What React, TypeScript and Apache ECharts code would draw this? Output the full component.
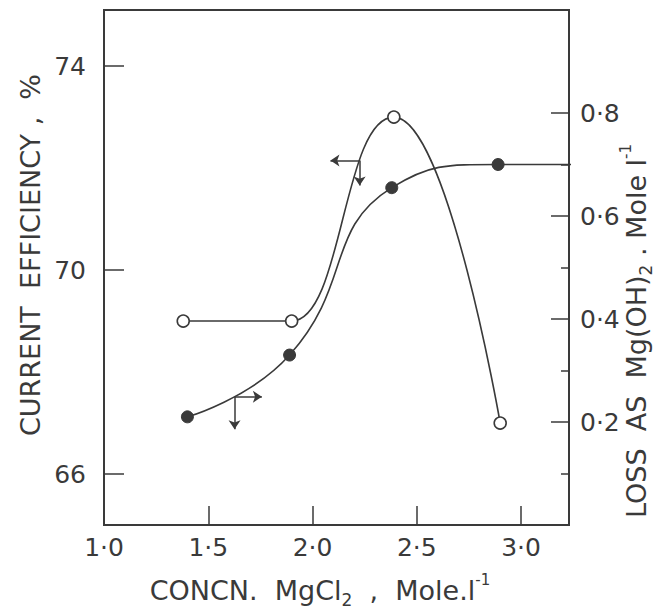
import React, { useEffect, useRef } from 'react';
import * as echarts from 'echarts';

// ---- data ----
const xTickLabels = [1.0, 1.5, 2.0, 2.5, 3.0];
const xTicks = [1.5, 2.0, 2.5, 3.0];
const leftTickLabels = [66, 70, 74];
const rightTickLabels = [0.2, 0.4, 0.6, 0.8];
const rightMinorTicks = [0.1, 0.3, 0.5, 0.7];

// current efficiency, % (open circles, left axis)
const effConc = [1.38, 1.9, 2.39, 2.9];
const effValues = [69.0, 69.0, 73.0, 67.0];

// loss as Mg(OH)2, mole/l (filled circles, right axis)
const lossConc = [1.4, 1.89, 2.38, 2.89];
const lossValues = [0.21, 0.33, 0.655, 0.7];
const lossLineEnd = [3.26, 0.7];

// arrow annotations (data coordinates)
const effArrow = { x: 2.226, y: 72.15, xTo: 2.086, yTo: 71.66 };
const lossArrow = { x: 1.626, y: 0.249, xTo: 1.757, yTo: 0.186 };

const INK = '#3a3a3a';
const FONT = 'DejaVu Sans';

const dotFmt = (v: number) => v.toFixed(1).replace('.', '\u00b7');

export default function App() {
  const ref = useRef<HTMLDivElement>(null);
  useEffect(() => {
    document.body.style.margin = '0';
    const chart = echarts.init(ref.current!, undefined, { renderer: 'svg' });
    const labelStyle = { color: INK, fontFamily: FONT, fontSize: 25 };
    const arrowLine = {
      silent: true,
      symbol: ['none', 'arrow'],
      symbolSize: 9,
      label: { show: false },
      emphasis: { disabled: true },
      lineStyle: { color: INK, width: 1.5, type: 'solid' },
    };
    const titleRich = {
      sub: { fontSize: 17, lineHeight: 17, verticalAlign: 'bottom', fill: INK, fontFamily: FONT },
      sup: { fontSize: 15, lineHeight: 15, verticalAlign: 'top', fill: INK, fontFamily: FONT },
    };
    const option: any = {
      animation: false,
      backgroundColor: '#ffffff',
      grid: {
        left: 104,
        right: 99,
        top: 10,
        bottom: 83,
        show: true,
        borderColor: INK,
        borderWidth: 2,
        backgroundColor: 'transparent',
      },
      xAxis: {
        type: 'value',
        min: 1.0,
        max: 3.23,
        interval: 0.5,
        axisLine: { show: false },
        splitLine: { show: false },
        axisTick: { inside: true, length: 19, lineStyle: { color: INK, width: 1.5 }, customValues: xTicks },
        axisLabel: { ...labelStyle, margin: 10, customValues: xTickLabels, formatter: (v: number) => dotFmt(v) },
      },
      yAxis: [
        {
          type: 'value',
          position: 'left',
          min: 65,
          max: 75.1,
          axisLine: { show: false },
          splitLine: { show: false },
          axisTick: { inside: true, length: 20, lineStyle: { color: INK, width: 1.5 }, customValues: leftTickLabels },
          axisLabel: { ...labelStyle, margin: 18, customValues: leftTickLabels, formatter: (v: number) => String(v) },
        },
        {
          type: 'value',
          position: 'right',
          min: 0,
          max: 1.0,
          axisLine: { show: false },
          splitLine: { show: false },
          axisTick: { inside: true, length: 18, lineStyle: { color: INK, width: 1.5 }, customValues: rightTickLabels },
          axisLabel: { ...labelStyle, margin: 11, customValues: rightTickLabels, formatter: (v: number) => dotFmt(v) },
        },
        {
          type: 'value',
          position: 'right',
          min: 0,
          max: 1.0,
          axisLine: { show: false },
          splitLine: { show: false },
          axisTick: { inside: true, length: 8, lineStyle: { color: INK, width: 1.5 }, customValues: rightMinorTicks },
          axisLabel: { show: false },
        },
      ],
      series: [
        {
          name: 'Current efficiency',
          type: 'line',
          yAxisIndex: 0,
          data: effConc.map((x, i) => [x, effValues[i]]),
          smooth: 0.5,
          smoothMonotone: 'x',
          symbol: 'circle',
          symbolSize: 12,
          itemStyle: { color: '#ffffff', borderColor: INK, borderWidth: 1.6 },
          lineStyle: { color: INK, width: 1.6 },
          z: 3,
          markLine: {
            ...arrowLine,
            data: [
              [{ coord: [effArrow.x, effArrow.y] }, { coord: [effArrow.xTo, effArrow.y] }],
              [{ coord: [effArrow.x, effArrow.y] }, { coord: [effArrow.x, effArrow.yTo] }],
            ],
          },
        },
        {
          name: 'Loss as Mg(OH)2',
          type: 'line',
          yAxisIndex: 1,
          clip: false,
          data: [
            ...lossConc.map((x, i) => [x, lossValues[i]]),
            { value: lossLineEnd, symbol: 'none' },
          ],
          smooth: 0.5,
          symbol: 'circle',
          symbolSize: 12,
          itemStyle: { color: INK, borderColor: INK, borderWidth: 1 },
          lineStyle: { color: INK, width: 1.6 },
          z: 2,
          markLine: {
            ...arrowLine,
            data: [
              [{ coord: [lossArrow.x, lossArrow.y] }, { coord: [lossArrow.x, lossArrow.yTo] }],
              [{ coord: [lossArrow.x, lossArrow.y] }, { coord: [lossArrow.xTo, lossArrow.y] }],
            ],
          },
        },
      ],
      graphic: [
        {
          type: 'text',
          x: 320,
          y: 590,
          style: {
            text: 'CONCN.  MgCl{sub|2}  ,  Mole.l{sup|-1}',
            align: 'center',
            verticalAlign: 'middle',
            fill: INK,
            font: `27px "${FONT}"`,
            lineHeight: 36,
            rich: titleRich,
          },
        },
        {
          type: 'text',
          x: 30,
          y: 255,
          rotation: Math.PI / 2,
          style: {
            text: 'CURRENT  EFFICIENCY ,  %',
            align: 'center',
            verticalAlign: 'middle',
            fill: INK,
            font: `27px "${FONT}"`,
          },
        },
        {
          type: 'text',
          x: 636,
          y: 331,
          rotation: Math.PI / 2,
          style: {
            text: 'LOSS  AS  Mg(OH){sub|2} . Mole l{sup|-1}',
            align: 'center',
            verticalAlign: 'middle',
            fill: INK,
            font: `27px "${FONT}"`,
            lineHeight: 36,
            rich: titleRich,
          },
        },
      ],
    };
    chart.setOption(option);
    return () => chart.dispose();
  }, []);
  return <div ref={ref} style={{ width: 668, height: 608 }} />;
}
